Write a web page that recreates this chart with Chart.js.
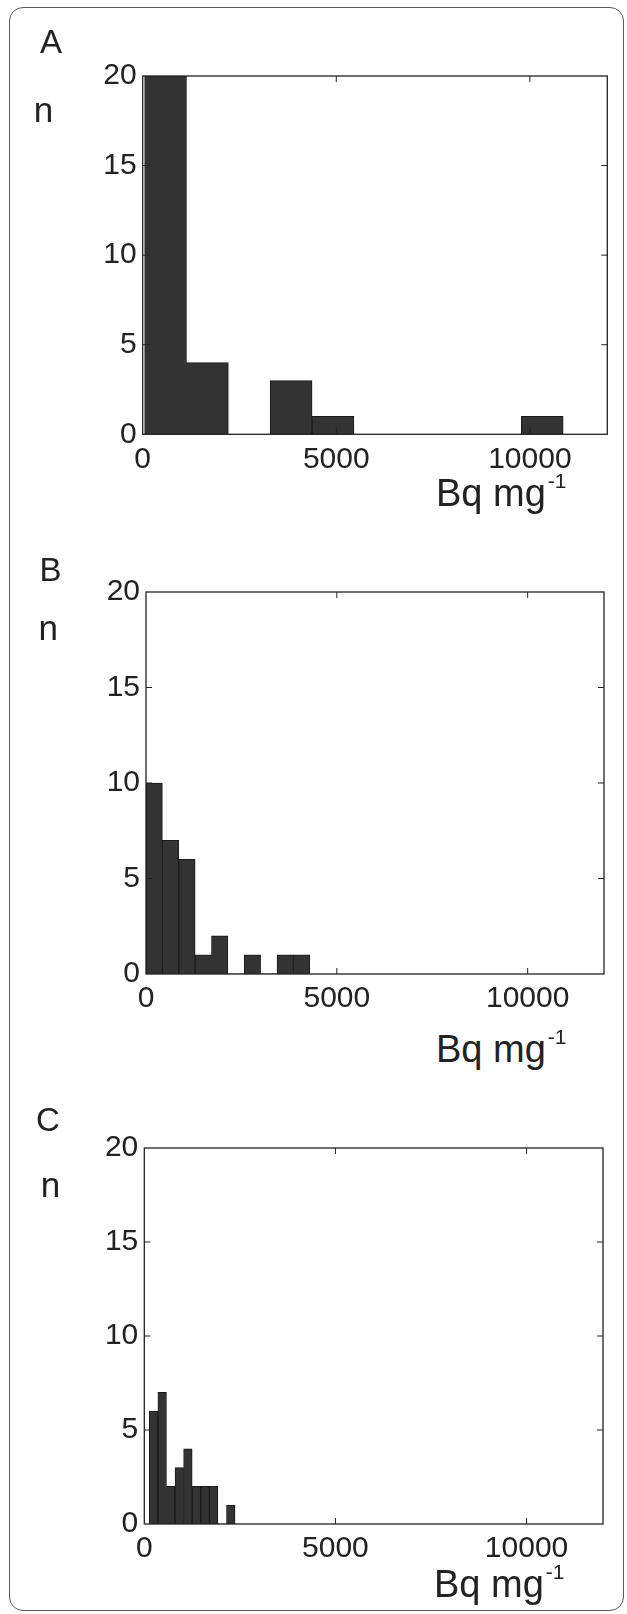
<!DOCTYPE html>
<html>
<head>
<meta charset="utf-8">
<script src="https://cdn.jsdelivr.net/npm/chart.js@4.4.1/dist/chart.umd.min.js"></script>
<style>
html,body{margin:0;padding:0;background:#fff;}
body{width:627px;height:1614px;position:relative;overflow:hidden;font-family:"Liberation Sans",Arial,Helvetica,sans-serif;color:#222;}
#card{position:absolute;left:9px;top:7px;width:615px;height:1604px;box-sizing:border-box;border:1.5px solid #5a5a5a;border-radius:14px;}
.lbl{position:absolute;line-height:1;white-space:nowrap;color:#222;}
.sup{font-size:21px;position:relative;top:-18px;margin-left:2px;}
canvas{position:absolute;left:0;}
</style>
</head>
<body>
<div id="card"></div>
<script>
// ---- data ----
const panelLetters = ['A', 'B', 'C'];
const yAxisTitle = 'n';
const xAxisTitle = 'Bq mg';
const xAxisTitleSup = '-1';
const xTicks = [0, 5000, 10000];
const yTicks = [0, 5, 10, 15, 20];
const xMin = 0, xMax = 12000, yMin = 0, yMax = 20;

// histogram bin edges (Bq mg-1) and counts per panel
const aEdges  = [50, 1131, 2212, 3293, 4374, 5455, 6536, 7617, 8698, 9779, 10860];
const aCounts = [20, 4, 0, 3, 1, 0, 0, 0, 0, 1];
const bEdges  = [0, 429, 858, 1287, 1716, 2145, 2574, 3003, 3432, 3861, 4290];
const bCounts = [10, 7, 6, 1, 2, 0, 1, 0, 1, 1];
const cEdges  = [131, 355, 580, 804, 1028, 1253, 1477, 1701, 1925, 2150, 2374];
const cCounts = [6, 7, 2, 3, 4, 2, 2, 2, 0, 1];

// ---- layout (pixels) ----
const plotBoxes = [
  {left: 142.7, right: 607.3, top: 76,   bottom: 434.3},
  {left: 146,   right: 604,   top: 592,  bottom: 974},
  {left: 144.3, right: 603,   top: 1148, bottom: 1524}
];
const letterPos = [{l: 40, t: 25.4}, {l: 39.6, t: 552.8}, {l: 36, t: 1102.8}];
const nPos      = [{l: 33.7, t: 92.4}, {l: 38.4, t: 609.7}, {l: 40.7, t: 1167.4}];
const unitPos   = [{l: 436, t: 474}, {l: 436, t: 1030}, {l: 434, t: 1565}];

const FONT = '"Liberation Sans", Arial, Helvetica, sans-serif';
const TICK_SIZE = 30;

function addLabel(html, l, t, size) {
  const d = document.createElement('div');
  d.className = 'lbl';
  d.style.left = l + 'px';
  d.style.top = t + 'px';
  d.style.fontSize = size + 'px';
  d.innerHTML = html;
  document.body.appendChild(d);
}

const boxPlugin = {
  id: 'matlabBox',
  afterDatasetsDraw(chart) {
    const {ctx, chartArea: a, scales} = chart;
    ctx.save();
    ctx.strokeStyle = '#222';
    ctx.lineWidth = 1.3;
    ctx.strokeRect(a.left, a.top, a.right - a.left, a.bottom - a.top);
    ctx.lineWidth = 1;
    ctx.beginPath();
    yTicks.forEach(v => {
      if (v <= yMin || v >= yMax) return;
      const p = scales.y.getPixelForValue(v);
      ctx.moveTo(a.left, p); ctx.lineTo(a.left + 6, p);
      ctx.moveTo(a.right, p); ctx.lineTo(a.right - 6, p);
    });
    xTicks.forEach(v => {
      if (v <= xMin || v >= xMax) return;
      const p = scales.x.getPixelForValue(v);
      ctx.moveTo(p, a.bottom); ctx.lineTo(p, a.bottom - 6);
      ctx.moveTo(p, a.top); ctx.lineTo(p, a.top + 6);
    });
    ctx.stroke();
    ctx.restore();
  }
};

function makeChart(edges, counts, g) {
  const padTop = 24, xAxisH = 54, yAxisW = 70;
  const plotH = g.bottom - g.top;
  const H = Math.ceil(padTop + plotH + xAxisH);
  const canvas = document.createElement('canvas');
  canvas.width = 627; canvas.height = H;
  canvas.style.width = '627px'; canvas.style.height = H + 'px';
  canvas.style.top = (g.top - padTop) + 'px';
  document.body.appendChild(canvas);
  const data = counts.map((c, i) => ({x: (edges[i] + edges[i + 1]) / 2, y: c}));
  new Chart(canvas, {
    type: 'bar',
    data: {datasets: [{
      data,
      backgroundColor: '#333333',
      borderColor: '#1b1b1b',
      borderWidth: ctx => (ctx.raw && ctx.raw.y > 0 ? 1 : 0),
      barPercentage: 1,
      categoryPercentage: 1,
      borderSkipped: 'start'
    }]},
    options: {
      responsive: false,
      animation: false,
      devicePixelRatio: 1,
      layout: {padding: {left: g.left - yAxisW, right: 627 - g.right, top: padTop, bottom: H - padTop - plotH - xAxisH}},
      plugins: {legend: {display: false}, tooltip: {enabled: false}},
      scales: {
        x: {
          type: 'linear', min: xMin, max: xMax, offset: false,
          afterBuildTicks: s => { s.ticks = xTicks.map(v => ({value: v})); },
          afterFit: s => { s.height = xAxisH; },
          grid: {display: false, drawTicks: false, offset: false},
          border: {display: false},
          ticks: {padding: 7, color: '#222', maxRotation: 0, autoSkip: false,
                  font: {size: TICK_SIZE, family: FONT}, callback: v => String(v)}
        },
        y: {
          type: 'linear', min: yMin, max: yMax,
          afterBuildTicks: s => { s.ticks = yTicks.map(v => ({value: v})); },
          afterFit: s => { s.width = yAxisW; },
          grid: {display: false, drawTicks: false},
          border: {display: false},
          ticks: {padding: 6, color: '#222', autoSkip: false,
                  font: {size: TICK_SIZE, family: FONT}, callback: v => String(v)}
        }
      }
    },
    plugins: [boxPlugin]
  });
}

const allEdges = [aEdges, bEdges, cEdges];
const allCounts = [aCounts, bCounts, cCounts];
plotBoxes.forEach((g, i) => {
  makeChart(allEdges[i], allCounts[i], g);
  addLabel(panelLetters[i], letterPos[i].l, letterPos[i].t, 33);
  addLabel(yAxisTitle, nPos[i].l, nPos[i].t, 35);
  addLabel(xAxisTitle + '<span class="sup">' + xAxisTitleSup + '</span>', unitPos[i].l, unitPos[i].t, 38);
});
</script>
</body>
</html>
